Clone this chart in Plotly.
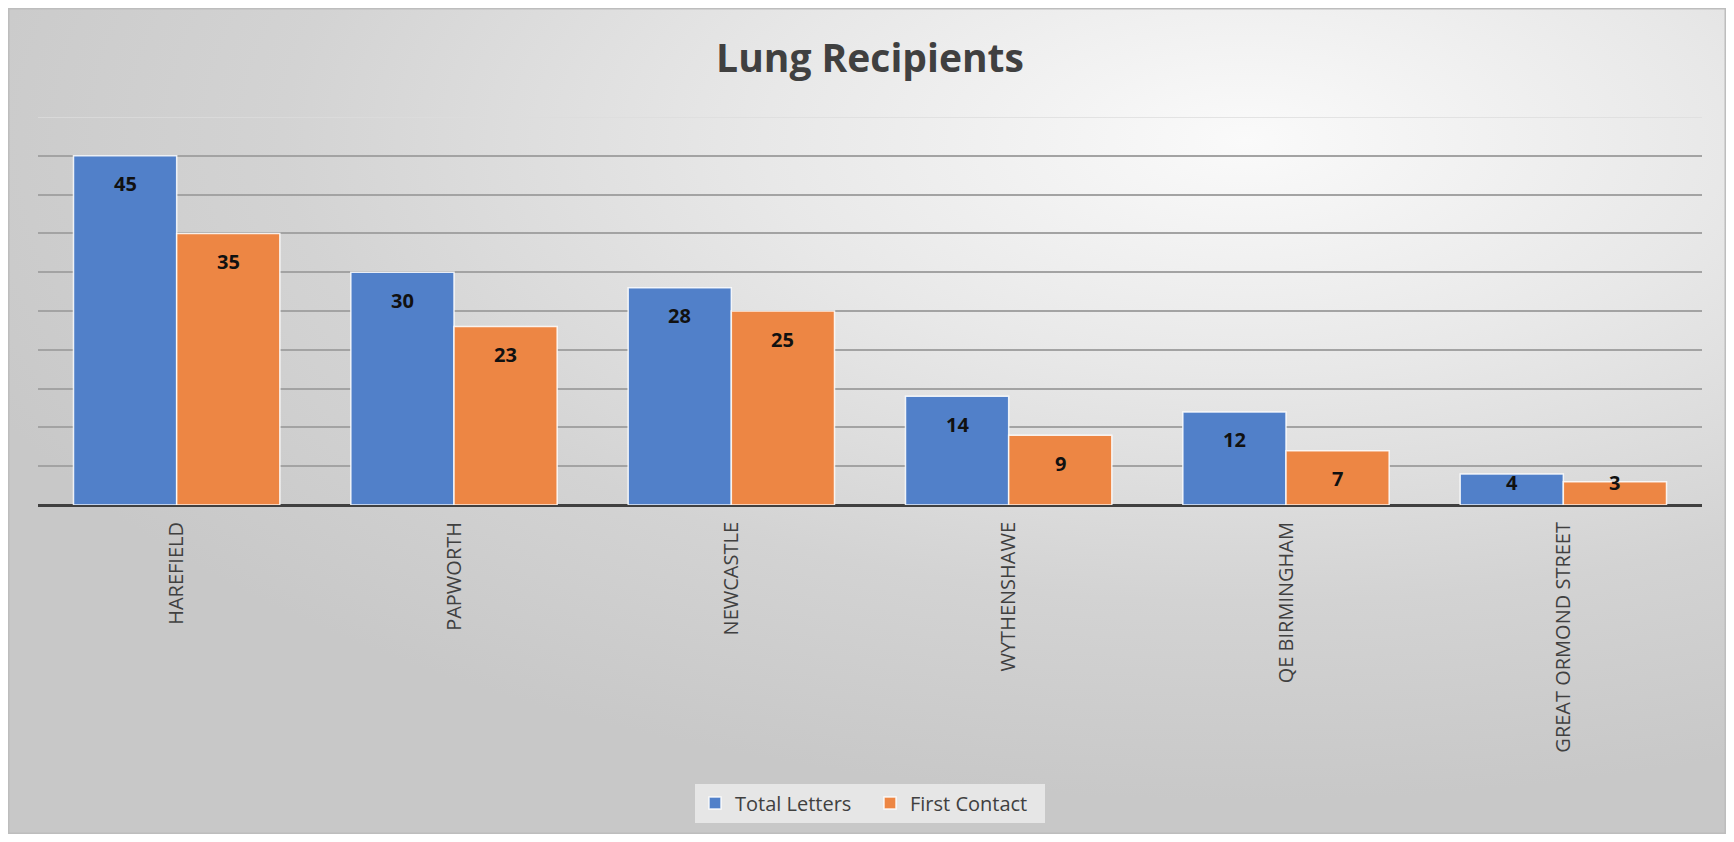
import base64
import plotly.graph_objects as go

# Data
centres = ["HAREFIELD", "PAPWORTH", "NEWCASTLE", "WYTHENSHAWE", "QE BIRMINGHAM", "GREAT ORMOND STREET"]
total_letters = [45, 30, 28, 14, 12, 4]
first_contact = [35, 23, 25, 9, 7, 3]
grid_vals = [0, 5, 10, 15, 20, 25, 30, 35, 40, 45]
y_max = 50

# page body has an 8px margin, so the figure is 16px smaller than the window
W, H = 1718, 826
L, R, T, B = 30, 24, 109, 329
pw, ph = W - L - R, H - T - B
bargap = 0.256

# gradient background with thin frame, drawn as an svg image behind the plot
svg = f"""<svg xmlns='http://www.w3.org/2000/svg' width='{W}' height='{H}'>
<defs><radialGradient id='g' cx='0.72' cy='0.16' r='0.8'>
<stop offset='0' stop-color='#fafafa'/><stop offset='0.35' stop-color='#e8e8e8'/>
<stop offset='0.7' stop-color='#d3d3d3'/><stop offset='1' stop-color='#c8c8c8'/>
</radialGradient></defs>
<rect x='0' y='0' width='{W}' height='{H}' fill='white'/>
<rect x='0.75' y='0.75' width='{W - 1.5}' height='{H - 1.5}' fill='url(#g)' stroke='#bdbdbd' stroke-width='1.5'/>
</svg>"""
bg = "data:image/svg+xml;base64," + base64.b64encode(svg.encode()).decode()

fig = go.Figure()
px_per_unit = ph / y_max
half_bar = pw / len(centres) * (1 - bargap) / 4
series = [("Total Letters", total_letters, "#5180c9", -1),
          ("First Contact", first_contact, "#ed8644", 1)]
for name, vals, col, side in series:
    fig.add_trace(go.Bar(
        x=centres, y=vals, name=name,
        marker=dict(color=col, line=dict(color="rgba(255,255,255,0.85)", width=1.5)),
        cliponaxis=False,
    ))
    # data labels, inside end like the original
    for c, v in zip(centres, vals):
        fig.add_annotation(
            x=c, y=v, text=f"<b>{v}</b>", showarrow=False,
            xshift=side * half_bar, yshift=-min(28, v * px_per_unit - 23),
            font=dict(family="Open Sans", size=20, color="#111111"),
        )

fig.add_shape(type="line", xref="paper", yref="y", x0=0, x1=1, y0=y_max, y1=y_max,
              line=dict(color="#dcdcdc", width=1.5), layer="below")

fig.add_layout_image(dict(
    source=bg, xref="paper", yref="paper",
    x=-L / pw, y=1 + T / ph, sizex=W / pw, sizey=H / ph,
    xanchor="left", yanchor="top", sizing="stretch", layer="below",
))

fig.update_layout(
    width=W, height=H,
    margin=dict(l=L, r=R, t=T, b=B),
    paper_bgcolor="white",
    plot_bgcolor="rgba(0,0,0,0)",
    barmode="group", bargap=bargap, bargroupgap=0,
    title=dict(text="<b>Lung Recipients</b>", x=0.5, xref="paper", y=1 - 50 / H, yanchor="middle",
               font=dict(family="Open Sans", size=39, color="#404040")),
    font=dict(family="Open Sans", color="#404040"),
    legend=dict(orientation="h", x=0.5, xanchor="center", y=-298 / ph, yanchor="middle",
                bgcolor="#e6e6e6", font=dict(size=20, color="#404040"),
                entrywidth=130, traceorder="normal"),
    xaxis=dict(tickangle=-90, tickfont=dict(size=20, color="#404040"), showgrid=False,
               ticks="", ticklabelstandoff=12, showline=False),
    yaxis=dict(range=[0, y_max], tickvals=grid_vals, showticklabels=False, showgrid=True,
               gridcolor="#a3a3a3", gridwidth=1.5, zeroline=True, zerolinecolor="#404040",
               zerolinewidth=3),
)

fig.write_html("out.html")
